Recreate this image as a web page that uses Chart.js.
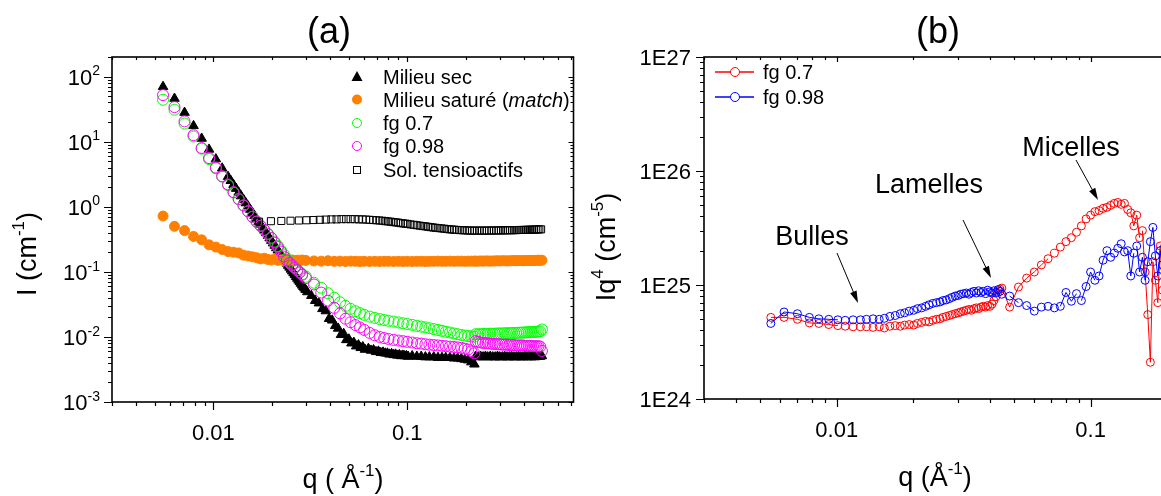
<!DOCTYPE html>
<html>
<head>
<meta charset="utf-8">
<script src="https://cdn.jsdelivr.net/npm/chart.js@4.4.1/dist/chart.umd.min.js"></script>
<style>
  html, body { margin: 0; padding: 0; background: #fff; overflow: hidden; width: 1161px; height: 496px; }
  #wrapA { position: absolute; left: 0; top: 0; width: 580px; height: 496px; }
  #wrapB { position: absolute; left: 580px; top: 0; width: 600px; height: 496px; }
</style>
</head>
<body>
<div id="wrapA"><canvas id="chartA" width="580" height="496"></canvas></div>
<div id="wrapB"><canvas id="chartB" width="600" height="496"></canvas></div>
<script>
// ---- panel (a) data: I(q) ----
const qA = [0.0055,0.0063,0.0071,0.0079,0.0087,0.0095,0.0103,0.0111,0.0119,0.0127,0.0135,0.0143,0.0151,0.0159,0.0167,0.0175,0.0183,0.0191,0.0199,0.0207,0.0215,0.0223,0.0231,0.0239,0.0247,0.0255,0.0263,0.0271,0.0279,0.0287,
  0.030,0.033,0.036,0.039,0.042,0.045,0.048,0.051,0.054,0.057,0.060,0.064,0.068,0.072,0.076,0.080,0.085,0.090,0.095,0.100,0.106,0.112,0.118,0.124,0.130,0.137,0.144,0.151,0.158,0.166,0.174,0.182,0.190,0.198,0.206,0.214,0.222,
  0.225,0.232,0.239,0.246,0.253,0.260,0.268,0.276,0.284,0.292,0.300,0.309,0.318,0.327,0.336,0.345,0.355,0.365,0.375,0.385,0.395,0.405,0.415,0.425,0.435,0.445,0.455,0.465,0.475,0.485,0.495];

// Milieu sec has a finer q grid (its points merge into a solid band)
const qSec = [0.0055,0.0063,0.0071,0.0079,0.0087,0.0095,0.0103,0.0111,0.0119,
  0.0123,0.0127,0.0131,0.0135,0.0139,0.0143,0.0147,0.0151,0.0155,0.0159,0.0163,0.0167,0.0171,0.0175,0.0179,0.0183,0.0187,0.0191,0.0195,0.0199,
  0.0203,0.0207,0.0211,0.0215,0.0219,0.0223,0.0227,0.0231,0.0235,0.0239,0.0243,0.0247,0.0251,0.0255,0.0259,0.0263,0.0267,0.0271,0.0275,0.0279,
  0.0283,0.0287,0.0291,0.0295,0.0299,
  0.0305,0.0320,0.0335,0.0350,0.0365,0.0380,0.0395,0.0410,0.0425,0.0440,0.0455,0.0470,0.0485,0.0500,0.0515,0.0530,0.0545,0.0560,0.0575,0.0590,0.0605,
  0.063,0.065,0.067,0.069,0.071,0.073,0.075,0.077,0.079,0.081,0.083,0.085,0.087,0.089,0.091,0.093,0.095,0.097,0.099,0.101,
  0.106,0.112,0.118,0.124,0.130,0.137,0.144,0.151,0.158,0.166,0.174,0.182,0.190,0.198,0.206,0.214,0.222,
  0.225,0.232,0.239,0.246,0.253,0.260,0.268,0.276,0.284,0.292,0.300,0.309,0.318,0.327,0.336,0.345,0.355,0.365,0.375,0.385,0.395,0.405,0.415,0.425,0.435,0.445,0.455,0.465,0.475,0.485,0.495];

const milieuSec = [70,46,28,17.5,11.2,7.6,5.4,3.9,2.9,
  2.51,2.18,1.90,1.66,1.46,1.29,1.14,1.02,0.906,0.810,0.726,0.653,0.588,0.531,0.481,0.436,0.397,0.361,0.330,0.302,
  0.276,0.254,0.233,0.215,0.198,0.183,0.169,0.157,0.145,0.135,0.125,0.117,0.109,0.102,0.096,0.090,0.084,0.079,0.074,0.070,
  0.066,0.062,0.059,0.056,0.053,
  0.049,0.043,0.036,0.033,0.027,0.025,0.019,0.018,0.0148,0.0135,0.0108,0.0112,0.0090,0.0092,0.0080,0.0082,0.0072,0.0075,0.0068,0.0070,0.0064,
  0.0066,0.0062,0.0063,0.0059,0.0060,0.0057,0.0058,0.0056,0.0056,0.0054,0.0055,0.0053,0.0054,0.0052,0.0053,0.0051,0.0052,0.0051,0.0051,0.0050,
  0.0051,0.0050,0.0050,0.0049,0.0049,0.0049,0.0048,0.0048,0.0048,0.0048,0.0047,0.0047,0.0046,0.0045,0.0044,0.0041,0.0038,
  0.0050,0.0049,0.0050,0.0049,0.0050,0.0049,0.0050,0.0049,0.0049,0.0050,0.0049,0.0049,0.0050,0.0049,0.0049,0.0050,0.0049,0.0049,0.0050,0.0049,0.0049,0.0050,0.0049,0.0050,0.0049,0.0050,0.0049,0.0050,0.0050,0.0050,0.0051];

const milieuSature = [0.72,0.50,0.43,0.35,0.31,0.26,0.24,0.22,0.205,0.20,0.195,0.18,0.175,0.17,0.165,0.158,0.162,0.155,0.152,0.158,0.150,0.153,0.148,0.155,0.150,0.152,0.148,0.151,0.149,0.152,
  0.150,0.147,0.146,0.148,0.145,0.146,0.144,0.146,0.145,0.144,0.145,0.144,0.145,0.144,0.145,0.145,0.144,0.145,0.144,0.145,0.144,0.145,0.145,0.144,0.145,0.145,0.146,0.145,0.145,0.146,0.145,0.146,0.146,0.145,0.146,0.146,0.146,
  0.146,0.146,0.147,0.146,0.147,0.147,0.146,0.147,0.147,0.148,0.147,0.148,0.148,0.147,0.148,0.148,0.149,0.148,0.149,0.149,0.148,0.149,0.149,0.150,0.149,0.150,0.150,0.150,0.151,0.150,0.151];

const fg07A = [44,31,19,12,7.8,5.4,3.9,2.9,2.15,1.65,1.3,1.04,0.85,0.70,0.59,0.51,0.44,0.385,0.335,0.29,0.25,0.215,0.185,0.162,0.143,0.128,0.117,0.107,0.099,0.092,
  0.084,0.068,0.057,0.047,0.040,0.034,0.030,0.027,0.0248,0.0232,0.0218,0.0205,0.0196,0.0188,0.0182,0.0177,0.0172,0.0167,0.0162,0.0158,0.0153,0.0148,0.0144,0.0140,0.0136,0.0132,0.0128,0.0124,0.0120,0.0117,0.0113,0.0110,0.0107,0.0105,0.0103,0.0102,0.0101,
  0.0110,0.0110,0.0110,0.0111,0.0111,0.0111,0.0112,0.0112,0.0112,0.0113,0.0113,0.0113,0.0114,0.0114,0.0114,0.0115,0.0115,0.0115,0.0116,0.0116,0.0117,0.0117,0.0118,0.0118,0.0119,0.0119,0.0120,0.0120,0.0121,0.0122,0.0130];

const fg098A = [52,34,20.5,12.6,8.0,5.6,4.0,2.95,2.2,1.68,1.32,1.05,0.85,0.70,0.59,0.51,0.44,0.38,0.33,0.28,0.24,0.205,0.172,0.150,0.136,0.125,0.115,0.106,0.098,0.090,
  0.080,0.064,0.048,0.036,0.028,0.023,0.019,0.0168,0.0152,0.0140,0.0128,0.0115,0.0106,0.0100,0.0096,0.0093,0.0090,0.0088,0.0086,0.0084,0.0082,0.0080,0.0079,0.0077,0.0076,0.0075,0.0074,0.0073,0.0072,0.0071,0.0070,0.0069,0.0068,0.0066,0.0064,0.0060,0.0056,
  0.0086,0.0084,0.0082,0.0081,0.0080,0.0080,0.0079,0.0078,0.0078,0.0077,0.0077,0.0076,0.0076,0.0076,0.0075,0.0075,0.0075,0.0074,0.0074,0.0074,0.0074,0.0073,0.0073,0.0073,0.0073,0.0072,0.0072,0.0072,0.0072,0.0071,0.0061];

const qSol = [0.0172,0.0198,0.0224,0.0250,0.0276,0.0302,0.0328,0.0354,0.0380,0.0406,0.0432,0.0458,0.0484,0.0510,0.0536,0.0562,0.0588,0.0614,0.0640,0.0666,
  0.0692,0.0718,0.0744,0.0770,0.0796,0.0822,0.0848,0.0874,0.0900,0.0926,0.0952,0.0978,0.1004,0.104,0.108,0.112,0.116,0.120,0.124,0.128,
  0.132,0.136,0.140,0.145,0.150,0.155,0.160,0.165,0.170,0.175,0.180,0.186,0.192,0.198,0.204,0.210,0.216,0.222,0.229,0.236,
  0.243,0.250,0.257,0.264,0.272,0.280,0.288,0.296,0.304,0.312,0.320,0.329,0.338,0.347,0.356,0.365,0.374,0.383,0.392,0.401,
  0.410,0.420,0.430,0.440,0.450,0.460,0.470,0.480,0.490];
const solTensio = [0.59,0.60,0.605,0.61,0.615,0.62,0.625,0.63,0.635,0.64,0.64,0.645,0.645,0.645,0.645,0.64,0.64,0.635,0.63,0.625,
  0.62,0.615,0.61,0.60,0.595,0.59,0.58,0.575,0.57,0.56,0.555,0.55,0.545,0.535,0.528,0.52,0.512,0.505,0.50,0.492,
  0.486,0.48,0.475,0.47,0.465,0.46,0.455,0.45,0.447,0.444,0.441,0.438,0.436,0.434,0.432,0.431,0.43,0.43,0.43,0.43,
  0.43,0.43,0.43,0.431,0.431,0.432,0.432,0.433,0.433,0.434,0.434,0.435,0.436,0.436,0.437,0.438,0.439,0.44,0.44,0.441,
  0.442,0.443,0.444,0.445,0.446,0.447,0.448,0.449,0.45];

// ---- panel (b) data: Iq^4 ----
const qB = [0.0055,0.0062,0.0070,0.0078,0.0085,0.0093,0.0101,0.0108,0.0116,0.0124,0.0131,0.0139,0.0147,0.0154,0.0162,0.0170,0.0178,0.0185,0.0193,0.0201,
  0.0208,0.0216,0.0224,0.0231,0.0239,0.0247,0.0255,0.0262,0.0270,0.0278,0.0285,0.0293,0.0301,0.0308,0.0316,0.0324,0.0332,0.0339,0.0347,0.0355,
  0.0362,0.0370,0.0378,0.0386,0.0393,0.0401,0.0409,0.0416,0.0424,0.0432,0.0440,0.0447,
  0.048,0.052,0.056,0.060,0.064,0.068,0.072,0.076,0.080,0.084,0.088,0.092,0.096,0.100,0.104,0.108,0.112,0.116,0.120,0.124,
  0.128,0.132,0.136,0.140,0.144,0.148,0.152,0.156,0.160,0.164,0.168,0.172,0.176,0.180,0.184,0.188,0.192,0.196,0.200];

const fg07B = [5.2e24,5.2e24,5.0e24,4.65e24,4.6e24,4.5e24,4.4e24,4.35e24,4.3e24,4.3e24,4.3e24,4.25e24,4.3e24,4.2e24,4.35e24,4.4e24,4.35e24,4.45e24,4.5e24,4.45e24,
  4.6e24,4.7e24,4.8e24,4.75e24,4.9e24,5.0e24,5.05e24,5.2e24,5.3e24,5.4e24,5.5e24,5.6e24,5.7e24,5.8e24,5.9e24,6.0e24,6.1e24,6.0e24,6.2e24,6.3e24,
  6.2e24,6.4e24,6.5e24,6.4e24,6.6e24,6.5e24,6.8e24,7.3e24,7.9e24,8.6e24,9.2e24,9.4e24,
  6.4e24,9.6e24,1.15e25,1.3e25,1.5e25,1.7e25,1.9e25,2.15e25,2.4e25,2.6e25,2.9e25,3.3e25,3.8e25,4.1e25,4.4e25,4.5e25,4.7e25,4.8e25,5.0e25,5.2e25,
  5.3e25,5.1e25,5.2e25,4.6e25,4.3e25,3.3e25,4.1e25,2.6e25,3.0e25,1.3e25,5.5e24,2.1e24,1.6e25,1.1e25,7.0e24,2.2e25,9.0e24,1.4e25,6.0e24];

const fg098B = [4.6e24,5.8e24,5.6e24,5.2e24,5.05e24,5.0e24,4.95e24,4.9e24,4.95e24,4.95e24,5.0e24,5.05e24,5.0e24,5.1e24,5.3e24,5.4e24,5.6e24,5.7e24,5.9e24,6.0e24,
  6.2e24,6.3e24,6.5e24,6.7e24,6.9e24,7.0e24,7.1e24,7.3e24,7.4e24,7.6e24,7.8e24,8.0e24,8.1e24,8.3e24,8.4e24,8.5e24,8.3e24,8.6e24,8.8e24,8.5e24,
  8.9e24,8.6e24,8.8e24,8.4e24,9.0e24,8.7e24,8.5e24,8.9e24,8.6e24,9.1e24,8.8e24,8.3e24,
  8.0e24,7.0e24,6.6e24,5.9e24,6.4e24,6.5e24,6.3e24,6.5e24,8.6e24,7.2e24,8.4e24,7.3e24,9.7e24,1.3e25,1.1e25,1.2e25,1.65e25,2.0e25,1.75e25,1.9e25,
  2.1e25,2.3e25,1.95e25,2.0e25,1.2e25,1.9e25,2.2e25,1.3e25,1.75e25,1.1e25,1.6e25,2.4e25,3.2e25,1.8e25,1.2e25,2.0e25,1.5e25,2.2e25,1.7e25];

const xTicksA = ['0.01', '0.1'];
const legendA = ['Milieu sec', 'Milieu saturé (match)', 'fg 0.7', 'fg 0.98', 'Sol. tensioactifs'];
const legendB = ['fg 0.7', 'fg 0.98'];

const FONT = '"Liberation Sans", Arial, Helvetica, sans-serif';
const toPts = (xs, ys) => xs.map((q, i) => ({ x: q, y: ys[i] }));

function fontFor(p, size) {
  const s = p.sup ? Math.round(size * 0.62) : size;
  return (p.it ? 'italic ' : '') + s + 'px ' + FONT;
}

function richWidth(ctx, parts, size) {
  let w = 0;
  parts.forEach(p => { ctx.font = fontFor(p, size); w += ctx.measureText(p.t).width; });
  return w;
}

// text with superscripts, y is the middle of the base text
function drawRich(ctx, parts, x, y, size, align) {
  const w = richWidth(ctx, parts, size);
  let cx = align === 'center' ? x - w / 2 : (align === 'right' ? x - w : x);
  const base = y + size * 0.36;
  ctx.textAlign = 'left';
  ctx.textBaseline = 'alphabetic';
  parts.forEach(p => {
    ctx.font = fontFor(p, size);
    ctx.fillText(p.t, cx, p.sup ? base - size * 0.42 : base);
    cx += ctx.measureText(p.t).width;
  });
}

function drawRotated(ctx, parts, x, y, size) {
  ctx.save();
  ctx.translate(x, y);
  ctx.rotate(-Math.PI / 2);
  drawRich(ctx, parts, 0, 0, size, 'center');
  ctx.restore();
}

function logTickValues(min, max) {
  const major = [], minor = [];
  for (let e = Math.floor(Math.log10(min)); e <= Math.ceil(Math.log10(max)); e++) {
    for (let m = 1; m < 10; m++) {
      const v = m * Math.pow(10, e);
      if (v < min * 0.999 || v > max * 1.001) continue;
      (m === 1 ? major : minor).push(v);
    }
  }
  return { major, minor };
}

function drawAxes(chart, o) {
  const { ctx, chartArea: a } = chart;
  const xs = chart.scales.x, ys = chart.scales.y;
  const xt = logTickValues(xs.min, xs.max), yt = logTickValues(ys.min, ys.max);
  const px = v => Math.round(xs.getPixelForValue(v)) + 0.5;
  const py = v => Math.round(ys.getPixelForValue(v)) + 0.5;
  ctx.save();
  ctx.strokeStyle = '#000';
  ctx.fillStyle = '#000';
  ctx.lineWidth = 1.2;
  ctx.beginPath();
  const seg = (x1, y1, x2, y2) => { ctx.moveTo(x1, y1); ctx.lineTo(x2, y2); };
  // bottom/left ticks point out, top/right ticks point in
  xt.major.forEach(v => { seg(px(v), a.bottom, px(v), a.bottom + 8); seg(px(v), a.top, px(v), a.top + 5); });
  xt.minor.forEach(v => { seg(px(v), a.bottom, px(v), a.bottom + 4); seg(px(v), a.top, px(v), a.top + 3); });
  yt.major.forEach(v => { seg(a.left - 8, py(v), a.left, py(v)); seg(a.right, py(v), a.right - 5, py(v)); });
  yt.minor.forEach(v => { seg(a.left - 4, py(v), a.left, py(v)); seg(a.right, py(v), a.right - 3, py(v)); });
  ctx.stroke();
  ctx.lineWidth = 1.6;
  ctx.strokeRect(a.left, a.top, a.right - a.left, a.bottom - a.top);
  xt.major.forEach(v => drawRich(ctx, [{ t: o.xLabel(v) }], xs.getPixelForValue(v), a.bottom + 30, 22, 'center'));
  yt.major.forEach(v => drawRich(ctx, o.yLabel(v), a.left - o.yGap, ys.getPixelForValue(v), 22, 'right'));
  ctx.restore();
}

function arrow(ctx, x1, y1, x2, y2) {
  const ang = Math.atan2(y2 - y1, x2 - x1), L = 12, W = 3.5;
  const c = Math.cos(ang), s = Math.sin(ang);
  ctx.beginPath();
  ctx.moveTo(x1, y1);
  ctx.lineTo(x2 - L * 0.8 * c, y2 - L * 0.8 * s);
  ctx.stroke();
  ctx.beginPath();
  ctx.moveTo(x2, y2);
  ctx.lineTo(x2 - L * c + W * s, y2 - L * s - W * c);
  ctx.lineTo(x2 - L * c - W * s, y2 - L * s + W * c);
  ctx.closePath();
  ctx.fill();
}

// ---- panel (a) ----
const decoA = {
  id: 'decoA',
  afterDraw(chart) {
    const ctx = chart.ctx;
    drawAxes(chart, {
      xLabel: v => xTicksA[Math.round(Math.log10(v)) + 2],
      yLabel: v => [{ t: '10' }, { t: String(Math.round(Math.log10(v))), sup: true }],
      yGap: 12
    });
    ctx.save();
    ctx.fillStyle = '#000';
    drawRich(ctx, [{ t: '(a)' }], 329, 30, 36, 'center');
    drawRich(ctx, [{ t: 'q ( Å' }, { t: '-1', sup: true }, { t: ')' }], 343, 478, 27, 'center');
    drawRotated(ctx, [{ t: 'I (cm' }, { t: '-1', sup: true }, { t: ')' }], 26, 254, 27);

    // legend
    const lx = 357, tx = 383, rows = [77, 99.5, 123, 146, 170];
    ctx.fillStyle = '#000';
    ctx.beginPath();
    ctx.moveTo(lx, rows[0] - 6); ctx.lineTo(lx + 5.5, rows[0] + 4); ctx.lineTo(lx - 5.5, rows[0] + 4);
    ctx.closePath(); ctx.fill();
    ctx.fillStyle = '#ff8000';
    ctx.beginPath(); ctx.arc(lx, rows[1], 5, 0, Math.PI * 2); ctx.fill();
    ctx.lineWidth = 1;
    ctx.strokeStyle = '#00ff00';
    ctx.beginPath(); ctx.arc(lx, rows[2], 4.5, 0, Math.PI * 2); ctx.stroke();
    ctx.strokeStyle = '#ff00ff';
    ctx.beginPath(); ctx.arc(lx, rows[3], 4.5, 0, Math.PI * 2); ctx.stroke();
    ctx.strokeStyle = '#000';
    ctx.strokeRect(lx - 3.5, rows[4] - 3.5, 7, 7);
    ctx.fillStyle = '#000';
    drawRich(ctx, [{ t: legendA[0] }], tx, rows[0], 20, 'left');
    drawRich(ctx, [{ t: 'Milieu saturé (' }, { t: 'match', it: true }, { t: ')' }], tx, rows[1], 20, 'left');
    drawRich(ctx, [{ t: legendA[2] }], tx, rows[2], 20, 'left');
    drawRich(ctx, [{ t: legendA[3] }], tx, rows[3], 20, 'left');
    drawRich(ctx, [{ t: legendA[4] }], tx, rows[4], 20, 'left');
    ctx.restore();
  }
};

new Chart(document.getElementById('chartA'), {
  type: 'scatter',
  data: {
    datasets: [
      { label: legendA[0], data: toPts(qSec, milieuSec), pointStyle: 'triangle', pointRadius: 5.5,
        backgroundColor: '#000', borderColor: '#000', order: 5 },
      { label: legendA[1], data: toPts(qA, milieuSature), pointStyle: 'circle', pointRadius: 5,
        backgroundColor: '#ff8000', borderColor: '#ff8000', order: 4 },
      { label: legendA[2], data: toPts(qA, fg07A), pointStyle: 'circle', pointRadius: 5.5, borderWidth: 1,
        backgroundColor: 'rgba(0,0,0,0)', borderColor: '#00ff00', order: 3 },
      { label: legendA[3], data: toPts(qA, fg098A), pointStyle: 'circle', pointRadius: 5.5, borderWidth: 1,
        backgroundColor: 'rgba(0,0,0,0)', borderColor: '#ff00ff', order: 2 },
      { label: legendA[4], data: toPts(qSol, solTensio), pointStyle: 'rect', pointRadius: 5, borderWidth: 1,
        backgroundColor: 'rgba(0,0,0,0)', borderColor: '#000', order: 1 }
    ]
  },
  options: {
    responsive: false,
    animation: false,
    events: [],
    layout: { padding: { left: 0, right: 5, top: 57, bottom: 0 } },
    plugins: { legend: { display: false }, tooltip: { enabled: false }, title: { display: false } },
    scales: {
      x: { type: 'logarithmic', min: 0.003, max: 0.72,
        grid: { display: false }, border: { display: false }, ticks: { display: false },
        afterFit(s) { s.height = 94; } },
      y: { type: 'logarithmic', min: 0.001, max: 200,
        grid: { display: false }, border: { display: false }, ticks: { display: false },
        afterFit(s) { s.width = 112; } }
    }
  },
  plugins: [decoA]
});

// ---- panel (b) ----
const OX = 580; // left of canvas B on the page
const gapColor = color => c => (Math.hypot(c.p1.x - c.p0.x, c.p1.y - c.p0.y) < 9 ? 'rgba(0,0,0,0)' : color);

const decoB = {
  id: 'decoB',
  afterDraw(chart) {
    const ctx = chart.ctx;
    drawAxes(chart, {
      xLabel: v => String(Number(v.toPrecision(1))),
      yLabel: v => [{ t: '1E' + Math.round(Math.log10(v)) }],
      yGap: 13
    });
    ctx.save();
    ctx.fillStyle = '#000';
    ctx.strokeStyle = '#000';
    drawRich(ctx, [{ t: '(b)' }], 938 - OX, 30, 36, 'center');
    drawRich(ctx, [{ t: 'q (Å' }, { t: '-1', sup: true }, { t: ')' }], 935 - OX, 476, 27, 'center');
    drawRotated(ctx, [{ t: 'Iq' }, { t: '4', sup: true }, { t: ' (cm' }, { t: '-5', sup: true }, { t: ')' }], 605 - OX, 247, 27);

    // annotations
    drawRich(ctx, [{ t: 'Bulles' }], 812 - OX, 235, 27, 'center');
    drawRich(ctx, [{ t: 'Lamelles' }], 929 - OX, 183, 27, 'center');
    drawRich(ctx, [{ t: 'Micelles' }], 1071 - OX, 146, 27, 'center');
    ctx.lineWidth = 1;
    arrow(ctx, 837 - OX, 253, 858 - OX, 303);
    arrow(ctx, 963 - OX, 220, 991 - OX, 278);
    arrow(ctx, 1076 - OX, 160, 1098 - OX, 200);

    // legend
    const cols = ['#ff0000', '#0000ff'], rows = [72, 97];
    cols.forEach((c, i) => {
      ctx.strokeStyle = c;
      ctx.lineWidth = 1.5;
      ctx.beginPath();
      ctx.moveTo(715 - OX, rows[i]); ctx.lineTo(754 - OX, rows[i]);
      ctx.stroke();
      ctx.fillStyle = '#fff';
      ctx.lineWidth = 1;
      ctx.beginPath(); ctx.arc(735 - OX, rows[i], 4.5, 0, Math.PI * 2); ctx.fill(); ctx.stroke();
      ctx.fillStyle = '#000';
      drawRich(ctx, [{ t: legendB[i] }], 763 - OX, rows[i], 20, 'left');
    });
    ctx.restore();
  }
};

new Chart(document.getElementById('chartB'), {
  type: 'scatter',
  data: {
    datasets: [
      { label: legendB[0], data: toPts(qB, fg07B), showLine: true, borderWidth: 1, borderColor: '#ff0000',
        pointRadius: 4, pointBorderWidth: 1, pointBackgroundColor: 'rgba(0,0,0,0)', pointBorderColor: '#ff0000',
        segment: { borderColor: gapColor('#ff0000') }, order: 2 },
      { label: legendB[1], data: toPts(qB, fg098B), showLine: true, borderWidth: 1, borderColor: '#0000ff',
        pointRadius: 4, pointBorderWidth: 1, pointBackgroundColor: 'rgba(0,0,0,0)', pointBorderColor: '#0000ff',
        segment: { borderColor: gapColor('#0000ff') }, order: 1 }
    ]
  },
  options: {
    responsive: false,
    animation: false,
    events: [],
    layout: { padding: { left: 0, right: 13, top: 57, bottom: 0 } },
    plugins: { legend: { display: false }, tooltip: { enabled: false }, title: { display: false } },
    scales: {
      x: { type: 'logarithmic', min: 0.003, max: 0.2,
        grid: { display: false }, border: { display: false }, ticks: { display: false },
        afterFit(s) { s.height = 97; } },
      y: { type: 'logarithmic', min: 1e24, max: 1e27,
        grid: { display: false }, border: { display: false }, ticks: { display: false },
        afterFit(s) { s.width = 124; } }
    }
  },
  plugins: [decoB]
});
</script>
</body>
</html>
